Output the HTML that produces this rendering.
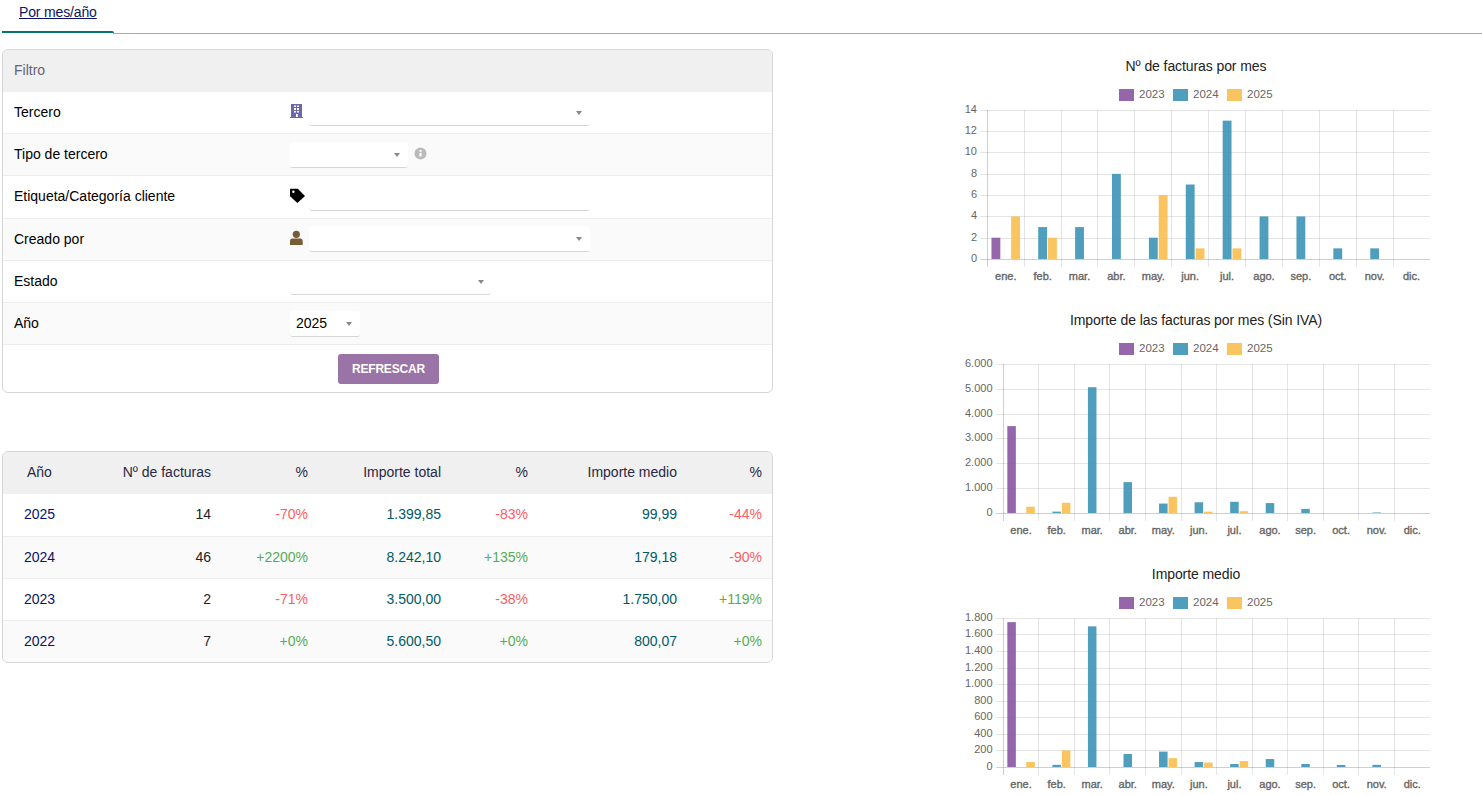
<!DOCTYPE html><html><head><meta charset="utf-8"><style>
html,body{margin:0;padding:0;background:#fff;width:1482px;height:795px;overflow:hidden;position:relative;font-family:"Liberation Sans",sans-serif;}
.t{position:absolute;white-space:nowrap;line-height:16px;}
.a{position:absolute;}
</style></head><body>
<div class="t" style="left:19px;top:4px;font-size:14px;color:rgb(10,20,100);font-weight:normal;text-decoration:underline;letter-spacing:-0.15px;">Por mes/año</div>
<div class="a" style="left:113px;top:33px;width:1369px;height:1px;background:#aaa"></div>
<div class="a" style="left:2px;top:31px;width:112px;height:2px;background:#007373;border-radius:0 2px 0 0"></div>
<div class="a" style="left:2px;top:49px;width:769px;height:342px;border:1px solid #d6d6d6;border-radius:6px;background:#fff;overflow:hidden">
<div class="a" style="left:0;top:0;width:769px;height:42px;background:#f0f0f0"></div>
<div class="a" style="left:0;top:42px;width:769px;height:41px;background:#fff"></div>
<div class="a" style="left:0;top:83px;width:769px;height:1px;background:#ececec"></div>
<div class="a" style="left:0;top:84px;width:769px;height:41px;background:#fafafa"></div>
<div class="a" style="left:0;top:125px;width:769px;height:1px;background:#ececec"></div>
<div class="a" style="left:0;top:126px;width:769px;height:42px;background:#fff"></div>
<div class="a" style="left:0;top:168px;width:769px;height:1px;background:#ececec"></div>
<div class="a" style="left:0;top:169px;width:769px;height:41px;background:#fafafa"></div>
<div class="a" style="left:0;top:210px;width:769px;height:1px;background:#ececec"></div>
<div class="a" style="left:0;top:211px;width:769px;height:41px;background:#fff"></div>
<div class="a" style="left:0;top:252px;width:769px;height:1px;background:#ececec"></div>
<div class="a" style="left:0;top:253px;width:769px;height:41px;background:#fafafa"></div>
<div class="a" style="left:0;top:294px;width:769px;height:1px;background:#ececec"></div>
</div>
<div class="t" style="left:14px;top:62px;font-size:14px;color:rgb(100,100,118);font-weight:normal;">Filtro</div>
<div class="t" style="left:14px;top:104px;font-size:14px;color:#000;font-weight:normal;">Tercero</div>
<div class="t" style="left:14px;top:146px;font-size:14px;color:#000;font-weight:normal;">Tipo de tercero</div>
<div class="t" style="left:14px;top:188px;font-size:14px;color:#000;font-weight:normal;">Etiqueta/Categoría cliente</div>
<div class="t" style="left:14px;top:231px;font-size:14px;color:#000;font-weight:normal;">Creado por</div>
<div class="t" style="left:14px;top:273px;font-size:14px;color:#000;font-weight:normal;">Estado</div>
<div class="t" style="left:14px;top:315px;font-size:14px;color:#000;font-weight:normal;">Año</div>
<svg class="a" style="left:290px;top:103px" width="14" height="16" viewBox="0 0 14 16"><rect x="1" y="1" width="11" height="14" fill="#6b69a8"/><rect x="0" y="14" width="13" height="1" fill="#6b69a8"/><rect x="4" y="2.5" width="2" height="1.5" fill="#fff"/><rect x="7" y="2.5" width="2" height="1.5" fill="#fff"/><rect x="4" y="5" width="2" height="2" fill="#fff"/><rect x="7" y="5" width="2" height="2" fill="#fff"/><rect x="4" y="8" width="2" height="1.5" fill="#fff"/><rect x="7" y="8" width="2" height="1.5" fill="#fff"/><rect x="6" y="11" width="1.8" height="3" fill="#fff"/></svg>
<div class="a" style="left:309px;top:100px;width:281px;height:25px;border-bottom:1px solid #d6d6d6;border-radius:0 0 3px 3px"></div>
<div class="a" style="left:576px;top:111px;width:0;height:0;border-left:3px solid transparent;border-right:3px solid transparent;border-top:4px solid #888"></div>
<div class="a" style="left:290px;top:142px;width:118px;height:25px;background:#fff;border-bottom:1px solid #d6d6d6;border-radius:3px"></div>
<div class="a" style="left:394px;top:153px;width:0;height:0;border-left:3px solid transparent;border-right:3px solid transparent;border-top:4px solid #888"></div>
<svg class="a" style="left:414px;top:147px" width="13" height="13" viewBox="0 0 13 13"><circle cx="6.5" cy="6.5" r="6" fill="#bbb"/><rect x="5.5" y="3.1" width="2" height="1.7" fill="#fff"/><rect x="5.4" y="5.9" width="2.2" height="3.5" fill="#fff"/></svg>
<svg class="a" style="left:290px;top:188px" width="16" height="16" viewBox="0 0 16 16"><path d="M0 1.3 Q0 0.8 0.5 0.8 L7.8 0.8 L15 7.9 L7.4 15 L0 8.3 Z" fill="#000"/><circle cx="3.4" cy="3.8" r="1.2" fill="#fff"/></svg>
<div class="a" style="left:309px;top:185px;width:281px;height:25px;border-bottom:1px solid #d6d6d6;border-radius:0 0 3px 3px"></div>
<svg class="a" style="left:290px;top:230px" width="14" height="16" viewBox="0 0 14 16"><circle cx="6.3" cy="4.3" r="3.6" fill="#785c36"/><path d="M0 11 Q0 8.6 2.4 8.6 L10.3 8.6 Q12.7 8.6 12.7 11 L12.7 14.9 L0 14.9 Z" fill="#785c36"/></svg>
<div class="a" style="left:309px;top:226px;width:281px;height:25px;background:#fff;border-bottom:1px solid #d6d6d6;border-radius:3px"></div>
<div class="a" style="left:576px;top:237px;width:0;height:0;border-left:3px solid transparent;border-right:3px solid transparent;border-top:4px solid #888"></div>
<div class="a" style="left:290px;top:269px;width:201px;height:25px;border-bottom:1px solid #d6d6d6;border-radius:0 0 3px 3px"></div>
<div class="a" style="left:478px;top:280px;width:0;height:0;border-left:3px solid transparent;border-right:3px solid transparent;border-top:4px solid #888"></div>
<div class="a" style="left:290px;top:311px;width:70px;height:25px;background:#fff;border-bottom:1px solid #d6d6d6;border-radius:3px"></div>
<div class="t" style="left:296px;top:315px;font-size:14px;color:#000;font-weight:normal;">2025</div>
<div class="a" style="left:346px;top:322px;width:0;height:0;border-left:3px solid transparent;border-right:3px solid transparent;border-top:4px solid #888"></div>
<div class="a" style="left:338px;top:354px;width:101px;height:30px;background:#9b74a7;border-radius:3px"></div>
<div class="t" style="left:352px;top:361px;font-size:12px;color:#fff;font-weight:bold;letter-spacing:-0.2px;">REFRESCAR</div>
<div class="a" style="left:2px;top:451px;width:769px;height:210px;border:1px solid #d6d6d6;border-radius:6px;background:#fff;overflow:hidden">
<div class="a" style="left:0;top:0;width:769px;height:42px;background:#f0f0f0"></div>
<div class="a" style="left:0;top:85px;width:769px;height:41px;background:#fafafa"></div>
<div class="a" style="left:0;top:169px;width:769px;height:41px;background:#fafafa"></div>
<div class="a" style="left:0;top:84px;width:769px;height:1px;background:#ececec"></div>
<div class="a" style="left:0;top:126px;width:769px;height:1px;background:#ececec"></div>
<div class="a" style="left:0;top:168px;width:769px;height:1px;background:#ececec"></div>
</div>
<div class="t" style="left:27px;top:464px;font-size:14px;color:rgb(40,40,68);font-weight:normal;">Año</div>
<div class="t" style="right:1271px;top:464px;font-size:14px;color:rgb(40,40,68);font-weight:normal;text-align:right;">Nº de facturas</div>
<div class="t" style="right:1174px;top:464px;font-size:14px;color:rgb(40,40,68);font-weight:normal;text-align:right;">%</div>
<div class="t" style="right:1041px;top:464px;font-size:14px;color:rgb(40,40,68);font-weight:normal;text-align:right;">Importe total</div>
<div class="t" style="right:954px;top:464px;font-size:14px;color:rgb(40,40,68);font-weight:normal;text-align:right;">%</div>
<div class="t" style="right:805px;top:464px;font-size:14px;color:rgb(40,40,68);font-weight:normal;text-align:right;">Importe medio</div>
<div class="t" style="right:720px;top:464px;font-size:14px;color:rgb(40,40,68);font-weight:normal;text-align:right;">%</div>
<div class="t" style="left:24px;top:506px;font-size:14px;color:rgb(10,20,100);font-weight:normal;">2025</div>
<div class="t" style="right:1271px;top:506px;font-size:14px;color:#222;font-weight:normal;text-align:right;">14</div>
<div class="t" style="right:1174px;top:506px;font-size:14px;color:#fb5d64;font-weight:normal;text-align:right;">-70%</div>
<div class="t" style="right:1041px;top:506px;font-size:14px;color:#005a66;font-weight:normal;text-align:right;">1.399,85</div>
<div class="t" style="right:954px;top:506px;font-size:14px;color:#fb5d64;font-weight:normal;text-align:right;">-83%</div>
<div class="t" style="right:805px;top:506px;font-size:14px;color:#005a66;font-weight:normal;text-align:right;">99,99</div>
<div class="t" style="right:720px;top:506px;font-size:14px;color:#fb5d64;font-weight:normal;text-align:right;">-44%</div>
<div class="t" style="left:24px;top:549px;font-size:14px;color:rgb(10,20,100);font-weight:normal;">2024</div>
<div class="t" style="right:1271px;top:549px;font-size:14px;color:#222;font-weight:normal;text-align:right;">46</div>
<div class="t" style="right:1174px;top:549px;font-size:14px;color:#55ad55;font-weight:normal;text-align:right;">+2200%</div>
<div class="t" style="right:1041px;top:549px;font-size:14px;color:#005a66;font-weight:normal;text-align:right;">8.242,10</div>
<div class="t" style="right:954px;top:549px;font-size:14px;color:#55ad55;font-weight:normal;text-align:right;">+135%</div>
<div class="t" style="right:805px;top:549px;font-size:14px;color:#005a66;font-weight:normal;text-align:right;">179,18</div>
<div class="t" style="right:720px;top:549px;font-size:14px;color:#fb5d64;font-weight:normal;text-align:right;">-90%</div>
<div class="t" style="left:24px;top:591px;font-size:14px;color:rgb(10,20,100);font-weight:normal;">2023</div>
<div class="t" style="right:1271px;top:591px;font-size:14px;color:#222;font-weight:normal;text-align:right;">2</div>
<div class="t" style="right:1174px;top:591px;font-size:14px;color:#fb5d64;font-weight:normal;text-align:right;">-71%</div>
<div class="t" style="right:1041px;top:591px;font-size:14px;color:#005a66;font-weight:normal;text-align:right;">3.500,00</div>
<div class="t" style="right:954px;top:591px;font-size:14px;color:#fb5d64;font-weight:normal;text-align:right;">-38%</div>
<div class="t" style="right:805px;top:591px;font-size:14px;color:#005a66;font-weight:normal;text-align:right;">1.750,00</div>
<div class="t" style="right:720px;top:591px;font-size:14px;color:#55ad55;font-weight:normal;text-align:right;">+119%</div>
<div class="t" style="left:24px;top:633px;font-size:14px;color:rgb(10,20,100);font-weight:normal;">2022</div>
<div class="t" style="right:1271px;top:633px;font-size:14px;color:#222;font-weight:normal;text-align:right;">7</div>
<div class="t" style="right:1174px;top:633px;font-size:14px;color:#55ad55;font-weight:normal;text-align:right;">+0%</div>
<div class="t" style="right:1041px;top:633px;font-size:14px;color:#005a66;font-weight:normal;text-align:right;">5.600,50</div>
<div class="t" style="right:954px;top:633px;font-size:14px;color:#55ad55;font-weight:normal;text-align:right;">+0%</div>
<div class="t" style="right:805px;top:633px;font-size:14px;color:#005a66;font-weight:normal;text-align:right;">800,07</div>
<div class="t" style="right:720px;top:633px;font-size:14px;color:#55ad55;font-weight:normal;text-align:right;">+0%</div>
<svg class="a" style="left:0;top:0" width="1482" height="795">
<text x="1196" y="70.5" text-anchor="middle" font-family='"Liberation Sans", sans-serif' font-size="14" fill="#222" letter-spacing="-0.09">Nº de facturas por mes</text>
<rect x="1119" y="89" width="15" height="12" fill="rgba(137,86,161,0.9)"/>
<text x="1139" y="98" font-family='"Liberation Sans", sans-serif' font-size="11.5" fill="#666">2023</text>
<rect x="1173" y="89" width="15" height="12" fill="rgba(60,147,183,0.9)"/>
<text x="1193" y="98" font-family='"Liberation Sans", sans-serif' font-size="11.5" fill="#666">2024</text>
<rect x="1227" y="89" width="15" height="12" fill="rgba(250,190,80,0.9)"/>
<text x="1247" y="98" font-family='"Liberation Sans", sans-serif' font-size="11.5" fill="#666">2025</text>
<rect x="980.3" y="259" width="449.70000000000005" height="1" fill="rgba(0,0,0,0.19)"/>
<text x="977" y="262" text-anchor="end" font-family='"Liberation Sans", sans-serif' font-size="11" fill="#666">0</text>
<rect x="980.3" y="238" width="449.70000000000005" height="1" fill="rgba(0,0,0,0.1)"/>
<text x="977" y="241" text-anchor="end" font-family='"Liberation Sans", sans-serif' font-size="11" fill="#666">2</text>
<rect x="980.3" y="216" width="449.70000000000005" height="1" fill="rgba(0,0,0,0.1)"/>
<text x="977" y="219" text-anchor="end" font-family='"Liberation Sans", sans-serif' font-size="11" fill="#666">4</text>
<rect x="980.3" y="195" width="449.70000000000005" height="1" fill="rgba(0,0,0,0.1)"/>
<text x="977" y="198" text-anchor="end" font-family='"Liberation Sans", sans-serif' font-size="11" fill="#666">6</text>
<rect x="980.3" y="174" width="449.70000000000005" height="1" fill="rgba(0,0,0,0.1)"/>
<text x="977" y="177" text-anchor="end" font-family='"Liberation Sans", sans-serif' font-size="11" fill="#666">8</text>
<rect x="980.3" y="152" width="449.70000000000005" height="1" fill="rgba(0,0,0,0.1)"/>
<text x="977" y="155" text-anchor="end" font-family='"Liberation Sans", sans-serif' font-size="11" fill="#666">10</text>
<rect x="980.3" y="131" width="449.70000000000005" height="1" fill="rgba(0,0,0,0.1)"/>
<text x="977" y="134" text-anchor="end" font-family='"Liberation Sans", sans-serif' font-size="11" fill="#666">12</text>
<rect x="980.3" y="110" width="449.70000000000005" height="1" fill="rgba(0,0,0,0.1)"/>
<text x="977" y="113" text-anchor="end" font-family='"Liberation Sans", sans-serif' font-size="11" fill="#666">14</text>
<rect x="987" y="110" width="1" height="157" fill="rgba(0,0,0,0.19)"/>
<text x="1005.75" y="279.5" text-anchor="middle" font-family='"Liberation Sans", sans-serif' font-size="11" fill="#666" stroke="#666" stroke-width="0.35">ene.</text>
<rect x="1024" y="110" width="1" height="157" fill="rgba(0,0,0,0.1)"/>
<text x="1042.64" y="279.5" text-anchor="middle" font-family='"Liberation Sans", sans-serif' font-size="11" fill="#666" stroke="#666" stroke-width="0.35">feb.</text>
<rect x="1061" y="110" width="1" height="157" fill="rgba(0,0,0,0.1)"/>
<text x="1079.53" y="279.5" text-anchor="middle" font-family='"Liberation Sans", sans-serif' font-size="11" fill="#666" stroke="#666" stroke-width="0.35">mar.</text>
<rect x="1097" y="110" width="1" height="157" fill="rgba(0,0,0,0.1)"/>
<text x="1116.42" y="279.5" text-anchor="middle" font-family='"Liberation Sans", sans-serif' font-size="11" fill="#666" stroke="#666" stroke-width="0.35">abr.</text>
<rect x="1134" y="110" width="1" height="157" fill="rgba(0,0,0,0.1)"/>
<text x="1153.31" y="279.5" text-anchor="middle" font-family='"Liberation Sans", sans-serif' font-size="11" fill="#666" stroke="#666" stroke-width="0.35">may.</text>
<rect x="1171" y="110" width="1" height="157" fill="rgba(0,0,0,0.1)"/>
<text x="1190.20" y="279.5" text-anchor="middle" font-family='"Liberation Sans", sans-serif' font-size="11" fill="#666" stroke="#666" stroke-width="0.35">jun.</text>
<rect x="1208" y="110" width="1" height="157" fill="rgba(0,0,0,0.1)"/>
<text x="1227.10" y="279.5" text-anchor="middle" font-family='"Liberation Sans", sans-serif' font-size="11" fill="#666" stroke="#666" stroke-width="0.35">jul.</text>
<rect x="1245" y="110" width="1" height="157" fill="rgba(0,0,0,0.1)"/>
<text x="1263.99" y="279.5" text-anchor="middle" font-family='"Liberation Sans", sans-serif' font-size="11" fill="#666" stroke="#666" stroke-width="0.35">ago.</text>
<rect x="1282" y="110" width="1" height="157" fill="rgba(0,0,0,0.1)"/>
<text x="1300.88" y="279.5" text-anchor="middle" font-family='"Liberation Sans", sans-serif' font-size="11" fill="#666" stroke="#666" stroke-width="0.35">sep.</text>
<rect x="1319" y="110" width="1" height="157" fill="rgba(0,0,0,0.1)"/>
<text x="1337.77" y="279.5" text-anchor="middle" font-family='"Liberation Sans", sans-serif' font-size="11" fill="#666" stroke="#666" stroke-width="0.35">oct.</text>
<rect x="1356" y="110" width="1" height="157" fill="rgba(0,0,0,0.1)"/>
<text x="1374.66" y="279.5" text-anchor="middle" font-family='"Liberation Sans", sans-serif' font-size="11" fill="#666" stroke="#666" stroke-width="0.35">nov.</text>
<rect x="1393" y="110" width="1" height="157" fill="rgba(0,0,0,0.1)"/>
<text x="1411.55" y="279.5" text-anchor="middle" font-family='"Liberation Sans", sans-serif' font-size="11" fill="#666" stroke="#666" stroke-width="0.35">dic.</text>
<rect x="991.48" y="237.71" width="8.85" height="21.29" fill="rgba(137,86,161,0.9)"/>
<rect x="1038.21" y="227.07" width="8.85" height="31.93" fill="rgba(60,147,183,0.9)"/>
<rect x="1075.10" y="227.07" width="8.85" height="31.93" fill="rgba(60,147,183,0.9)"/>
<rect x="1111.99" y="173.86" width="8.85" height="85.14" fill="rgba(60,147,183,0.9)"/>
<rect x="1148.89" y="237.71" width="8.85" height="21.29" fill="rgba(60,147,183,0.9)"/>
<rect x="1185.78" y="184.50" width="8.85" height="74.50" fill="rgba(60,147,183,0.9)"/>
<rect x="1222.67" y="120.64" width="8.85" height="138.36" fill="rgba(60,147,183,0.9)"/>
<rect x="1259.56" y="216.43" width="8.85" height="42.57" fill="rgba(60,147,183,0.9)"/>
<rect x="1296.45" y="216.43" width="8.85" height="42.57" fill="rgba(60,147,183,0.9)"/>
<rect x="1333.34" y="248.36" width="8.85" height="10.64" fill="rgba(60,147,183,0.9)"/>
<rect x="1370.24" y="248.36" width="8.85" height="10.64" fill="rgba(60,147,183,0.9)"/>
<rect x="1011.16" y="216.43" width="8.85" height="42.57" fill="rgba(250,190,80,0.9)"/>
<rect x="1048.05" y="237.71" width="8.85" height="21.29" fill="rgba(250,190,80,0.9)"/>
<rect x="1158.72" y="195.14" width="8.85" height="63.86" fill="rgba(250,190,80,0.9)"/>
<rect x="1195.61" y="248.36" width="8.85" height="10.64" fill="rgba(250,190,80,0.9)"/>
<rect x="1232.51" y="248.36" width="8.85" height="10.64" fill="rgba(250,190,80,0.9)"/>
<text x="1196" y="324.5" text-anchor="middle" font-family='"Liberation Sans", sans-serif' font-size="14" fill="#222" letter-spacing="-0.09">Importe de las facturas por mes (Sin IVA)</text>
<rect x="1119" y="343" width="15" height="12" fill="rgba(137,86,161,0.9)"/>
<text x="1139" y="352" font-family='"Liberation Sans", sans-serif' font-size="11.5" fill="#666">2023</text>
<rect x="1173" y="343" width="15" height="12" fill="rgba(60,147,183,0.9)"/>
<text x="1193" y="352" font-family='"Liberation Sans", sans-serif' font-size="11.5" fill="#666">2024</text>
<rect x="1227" y="343" width="15" height="12" fill="rgba(250,190,80,0.9)"/>
<text x="1247" y="352" font-family='"Liberation Sans", sans-serif' font-size="11.5" fill="#666">2025</text>
<rect x="996.3" y="513" width="433.70000000000005" height="1" fill="rgba(0,0,0,0.19)"/>
<text x="992.5" y="516" text-anchor="end" font-family='"Liberation Sans", sans-serif' font-size="11" fill="#666">0</text>
<rect x="996.3" y="488" width="433.70000000000005" height="1" fill="rgba(0,0,0,0.1)"/>
<text x="992.5" y="491" text-anchor="end" font-family='"Liberation Sans", sans-serif' font-size="11" fill="#666">1.000</text>
<rect x="996.3" y="463" width="433.70000000000005" height="1" fill="rgba(0,0,0,0.1)"/>
<text x="992.5" y="466" text-anchor="end" font-family='"Liberation Sans", sans-serif' font-size="11" fill="#666">2.000</text>
<rect x="996.3" y="438" width="433.70000000000005" height="1" fill="rgba(0,0,0,0.1)"/>
<text x="992.5" y="441" text-anchor="end" font-family='"Liberation Sans", sans-serif' font-size="11" fill="#666">3.000</text>
<rect x="996.3" y="414" width="433.70000000000005" height="1" fill="rgba(0,0,0,0.1)"/>
<text x="992.5" y="417" text-anchor="end" font-family='"Liberation Sans", sans-serif' font-size="11" fill="#666">4.000</text>
<rect x="996.3" y="389" width="433.70000000000005" height="1" fill="rgba(0,0,0,0.1)"/>
<text x="992.5" y="392" text-anchor="end" font-family='"Liberation Sans", sans-serif' font-size="11" fill="#666">5.000</text>
<rect x="996.3" y="364" width="433.70000000000005" height="1" fill="rgba(0,0,0,0.1)"/>
<text x="992.5" y="367" text-anchor="end" font-family='"Liberation Sans", sans-serif' font-size="11" fill="#666">6.000</text>
<rect x="1003" y="364" width="1" height="157" fill="rgba(0,0,0,0.19)"/>
<text x="1021.08" y="533.5" text-anchor="middle" font-family='"Liberation Sans", sans-serif' font-size="11" fill="#666" stroke="#666" stroke-width="0.35">ene.</text>
<rect x="1038" y="364" width="1" height="157" fill="rgba(0,0,0,0.1)"/>
<text x="1056.64" y="533.5" text-anchor="middle" font-family='"Liberation Sans", sans-serif' font-size="11" fill="#666" stroke="#666" stroke-width="0.35">feb.</text>
<rect x="1074" y="364" width="1" height="157" fill="rgba(0,0,0,0.1)"/>
<text x="1092.20" y="533.5" text-anchor="middle" font-family='"Liberation Sans", sans-serif' font-size="11" fill="#666" stroke="#666" stroke-width="0.35">mar.</text>
<rect x="1109" y="364" width="1" height="157" fill="rgba(0,0,0,0.1)"/>
<text x="1127.75" y="533.5" text-anchor="middle" font-family='"Liberation Sans", sans-serif' font-size="11" fill="#666" stroke="#666" stroke-width="0.35">abr.</text>
<rect x="1145" y="364" width="1" height="157" fill="rgba(0,0,0,0.1)"/>
<text x="1163.31" y="533.5" text-anchor="middle" font-family='"Liberation Sans", sans-serif' font-size="11" fill="#666" stroke="#666" stroke-width="0.35">may.</text>
<rect x="1181" y="364" width="1" height="157" fill="rgba(0,0,0,0.1)"/>
<text x="1198.87" y="533.5" text-anchor="middle" font-family='"Liberation Sans", sans-serif' font-size="11" fill="#666" stroke="#666" stroke-width="0.35">jun.</text>
<rect x="1216" y="364" width="1" height="157" fill="rgba(0,0,0,0.1)"/>
<text x="1234.43" y="533.5" text-anchor="middle" font-family='"Liberation Sans", sans-serif' font-size="11" fill="#666" stroke="#666" stroke-width="0.35">jul.</text>
<rect x="1252" y="364" width="1" height="157" fill="rgba(0,0,0,0.1)"/>
<text x="1269.99" y="533.5" text-anchor="middle" font-family='"Liberation Sans", sans-serif' font-size="11" fill="#666" stroke="#666" stroke-width="0.35">ago.</text>
<rect x="1287" y="364" width="1" height="157" fill="rgba(0,0,0,0.1)"/>
<text x="1305.55" y="533.5" text-anchor="middle" font-family='"Liberation Sans", sans-serif' font-size="11" fill="#666" stroke="#666" stroke-width="0.35">sep.</text>
<rect x="1323" y="364" width="1" height="157" fill="rgba(0,0,0,0.1)"/>
<text x="1341.10" y="533.5" text-anchor="middle" font-family='"Liberation Sans", sans-serif' font-size="11" fill="#666" stroke="#666" stroke-width="0.35">oct.</text>
<rect x="1358" y="364" width="1" height="157" fill="rgba(0,0,0,0.1)"/>
<text x="1376.66" y="533.5" text-anchor="middle" font-family='"Liberation Sans", sans-serif' font-size="11" fill="#666" stroke="#666" stroke-width="0.35">nov.</text>
<rect x="1394" y="364" width="1" height="157" fill="rgba(0,0,0,0.1)"/>
<text x="1412.22" y="533.5" text-anchor="middle" font-family='"Liberation Sans", sans-serif' font-size="11" fill="#666" stroke="#666" stroke-width="0.35">dic.</text>
<rect x="1007.33" y="426.08" width="8.53" height="86.92" fill="rgba(137,86,161,0.9)"/>
<rect x="1052.37" y="511.63" width="8.53" height="1.37" fill="rgba(60,147,183,0.9)"/>
<rect x="1087.93" y="387.24" width="8.53" height="125.76" fill="rgba(60,147,183,0.9)"/>
<rect x="1123.49" y="482.11" width="8.53" height="30.89" fill="rgba(60,147,183,0.9)"/>
<rect x="1159.05" y="503.56" width="8.53" height="9.44" fill="rgba(60,147,183,0.9)"/>
<rect x="1194.60" y="502.27" width="8.53" height="10.73" fill="rgba(60,147,183,0.9)"/>
<rect x="1230.16" y="501.78" width="8.53" height="11.22" fill="rgba(60,147,183,0.9)"/>
<rect x="1265.72" y="503.07" width="8.53" height="9.93" fill="rgba(60,147,183,0.9)"/>
<rect x="1301.28" y="508.93" width="8.53" height="4.07" fill="rgba(60,147,183,0.9)"/>
<rect x="1372.40" y="512.50" width="8.53" height="0.50" fill="rgba(60,147,183,0.9)"/>
<rect x="1026.29" y="506.74" width="8.53" height="6.26" fill="rgba(250,190,80,0.9)"/>
<rect x="1061.85" y="502.77" width="8.53" height="10.23" fill="rgba(250,190,80,0.9)"/>
<rect x="1168.53" y="496.81" width="8.53" height="16.19" fill="rgba(250,190,80,0.9)"/>
<rect x="1204.09" y="511.66" width="8.53" height="1.34" fill="rgba(250,190,80,0.9)"/>
<rect x="1239.64" y="511.24" width="8.53" height="1.76" fill="rgba(250,190,80,0.9)"/>
<text x="1196" y="578.5" text-anchor="middle" font-family='"Liberation Sans", sans-serif' font-size="14" fill="#222" letter-spacing="-0.09">Importe medio</text>
<rect x="1119" y="597" width="15" height="12" fill="rgba(137,86,161,0.9)"/>
<text x="1139" y="606" font-family='"Liberation Sans", sans-serif' font-size="11.5" fill="#666">2023</text>
<rect x="1173" y="597" width="15" height="12" fill="rgba(60,147,183,0.9)"/>
<text x="1193" y="606" font-family='"Liberation Sans", sans-serif' font-size="11.5" fill="#666">2024</text>
<rect x="1227" y="597" width="15" height="12" fill="rgba(250,190,80,0.9)"/>
<text x="1247" y="606" font-family='"Liberation Sans", sans-serif' font-size="11.5" fill="#666">2025</text>
<rect x="996.3" y="767" width="433.70000000000005" height="1" fill="rgba(0,0,0,0.19)"/>
<text x="992.5" y="770" text-anchor="end" font-family='"Liberation Sans", sans-serif' font-size="11" fill="#666">0</text>
<rect x="996.3" y="750" width="433.70000000000005" height="1" fill="rgba(0,0,0,0.1)"/>
<text x="992.5" y="753" text-anchor="end" font-family='"Liberation Sans", sans-serif' font-size="11" fill="#666">200</text>
<rect x="996.3" y="734" width="433.70000000000005" height="1" fill="rgba(0,0,0,0.1)"/>
<text x="992.5" y="737" text-anchor="end" font-family='"Liberation Sans", sans-serif' font-size="11" fill="#666">400</text>
<rect x="996.3" y="717" width="433.70000000000005" height="1" fill="rgba(0,0,0,0.1)"/>
<text x="992.5" y="720" text-anchor="end" font-family='"Liberation Sans", sans-serif' font-size="11" fill="#666">600</text>
<rect x="996.3" y="701" width="433.70000000000005" height="1" fill="rgba(0,0,0,0.1)"/>
<text x="992.5" y="704" text-anchor="end" font-family='"Liberation Sans", sans-serif' font-size="11" fill="#666">800</text>
<rect x="996.3" y="684" width="433.70000000000005" height="1" fill="rgba(0,0,0,0.1)"/>
<text x="992.5" y="687" text-anchor="end" font-family='"Liberation Sans", sans-serif' font-size="11" fill="#666">1.000</text>
<rect x="996.3" y="668" width="433.70000000000005" height="1" fill="rgba(0,0,0,0.1)"/>
<text x="992.5" y="671" text-anchor="end" font-family='"Liberation Sans", sans-serif' font-size="11" fill="#666">1.200</text>
<rect x="996.3" y="651" width="433.70000000000005" height="1" fill="rgba(0,0,0,0.1)"/>
<text x="992.5" y="654" text-anchor="end" font-family='"Liberation Sans", sans-serif' font-size="11" fill="#666">1.400</text>
<rect x="996.3" y="634" width="433.70000000000005" height="1" fill="rgba(0,0,0,0.1)"/>
<text x="992.5" y="637" text-anchor="end" font-family='"Liberation Sans", sans-serif' font-size="11" fill="#666">1.600</text>
<rect x="996.3" y="618" width="433.70000000000005" height="1" fill="rgba(0,0,0,0.1)"/>
<text x="992.5" y="621" text-anchor="end" font-family='"Liberation Sans", sans-serif' font-size="11" fill="#666">1.800</text>
<rect x="1003" y="618" width="1" height="157" fill="rgba(0,0,0,0.19)"/>
<text x="1021.08" y="787.5" text-anchor="middle" font-family='"Liberation Sans", sans-serif' font-size="11" fill="#666" stroke="#666" stroke-width="0.35">ene.</text>
<rect x="1038" y="618" width="1" height="157" fill="rgba(0,0,0,0.1)"/>
<text x="1056.64" y="787.5" text-anchor="middle" font-family='"Liberation Sans", sans-serif' font-size="11" fill="#666" stroke="#666" stroke-width="0.35">feb.</text>
<rect x="1074" y="618" width="1" height="157" fill="rgba(0,0,0,0.1)"/>
<text x="1092.20" y="787.5" text-anchor="middle" font-family='"Liberation Sans", sans-serif' font-size="11" fill="#666" stroke="#666" stroke-width="0.35">mar.</text>
<rect x="1109" y="618" width="1" height="157" fill="rgba(0,0,0,0.1)"/>
<text x="1127.75" y="787.5" text-anchor="middle" font-family='"Liberation Sans", sans-serif' font-size="11" fill="#666" stroke="#666" stroke-width="0.35">abr.</text>
<rect x="1145" y="618" width="1" height="157" fill="rgba(0,0,0,0.1)"/>
<text x="1163.31" y="787.5" text-anchor="middle" font-family='"Liberation Sans", sans-serif' font-size="11" fill="#666" stroke="#666" stroke-width="0.35">may.</text>
<rect x="1181" y="618" width="1" height="157" fill="rgba(0,0,0,0.1)"/>
<text x="1198.87" y="787.5" text-anchor="middle" font-family='"Liberation Sans", sans-serif' font-size="11" fill="#666" stroke="#666" stroke-width="0.35">jun.</text>
<rect x="1216" y="618" width="1" height="157" fill="rgba(0,0,0,0.1)"/>
<text x="1234.43" y="787.5" text-anchor="middle" font-family='"Liberation Sans", sans-serif' font-size="11" fill="#666" stroke="#666" stroke-width="0.35">jul.</text>
<rect x="1252" y="618" width="1" height="157" fill="rgba(0,0,0,0.1)"/>
<text x="1269.99" y="787.5" text-anchor="middle" font-family='"Liberation Sans", sans-serif' font-size="11" fill="#666" stroke="#666" stroke-width="0.35">ago.</text>
<rect x="1287" y="618" width="1" height="157" fill="rgba(0,0,0,0.1)"/>
<text x="1305.55" y="787.5" text-anchor="middle" font-family='"Liberation Sans", sans-serif' font-size="11" fill="#666" stroke="#666" stroke-width="0.35">sep.</text>
<rect x="1323" y="618" width="1" height="157" fill="rgba(0,0,0,0.1)"/>
<text x="1341.10" y="787.5" text-anchor="middle" font-family='"Liberation Sans", sans-serif' font-size="11" fill="#666" stroke="#666" stroke-width="0.35">oct.</text>
<rect x="1358" y="618" width="1" height="157" fill="rgba(0,0,0,0.1)"/>
<text x="1376.66" y="787.5" text-anchor="middle" font-family='"Liberation Sans", sans-serif' font-size="11" fill="#666" stroke="#666" stroke-width="0.35">nov.</text>
<rect x="1394" y="618" width="1" height="157" fill="rgba(0,0,0,0.1)"/>
<text x="1412.22" y="787.5" text-anchor="middle" font-family='"Liberation Sans", sans-serif' font-size="11" fill="#666" stroke="#666" stroke-width="0.35">dic.</text>
<rect x="1007.33" y="622.14" width="8.53" height="144.86" fill="rgba(137,86,161,0.9)"/>
<rect x="1052.37" y="764.85" width="8.53" height="2.15" fill="rgba(60,147,183,0.9)"/>
<rect x="1087.93" y="626.36" width="8.53" height="140.64" fill="rgba(60,147,183,0.9)"/>
<rect x="1123.49" y="754.00" width="8.53" height="13.00" fill="rgba(60,147,183,0.9)"/>
<rect x="1159.05" y="751.60" width="8.53" height="15.40" fill="rgba(60,147,183,0.9)"/>
<rect x="1194.60" y="762.03" width="8.53" height="4.97" fill="rgba(60,147,183,0.9)"/>
<rect x="1230.16" y="764.02" width="8.53" height="2.98" fill="rgba(60,147,183,0.9)"/>
<rect x="1265.72" y="759.05" width="8.53" height="7.95" fill="rgba(60,147,183,0.9)"/>
<rect x="1301.28" y="764.02" width="8.53" height="2.98" fill="rgba(60,147,183,0.9)"/>
<rect x="1336.84" y="765.01" width="8.53" height="1.99" fill="rgba(60,147,183,0.9)"/>
<rect x="1372.40" y="764.85" width="8.53" height="2.15" fill="rgba(60,147,183,0.9)"/>
<rect x="1026.29" y="762.03" width="8.53" height="4.97" fill="rgba(250,190,80,0.9)"/>
<rect x="1061.85" y="750.36" width="8.53" height="16.64" fill="rgba(250,190,80,0.9)"/>
<rect x="1168.53" y="758.14" width="8.53" height="8.86" fill="rgba(250,190,80,0.9)"/>
<rect x="1204.09" y="762.53" width="8.53" height="4.47" fill="rgba(250,190,80,0.9)"/>
<rect x="1239.64" y="761.12" width="8.53" height="5.88" fill="rgba(250,190,80,0.9)"/>
</svg>
</body></html>
